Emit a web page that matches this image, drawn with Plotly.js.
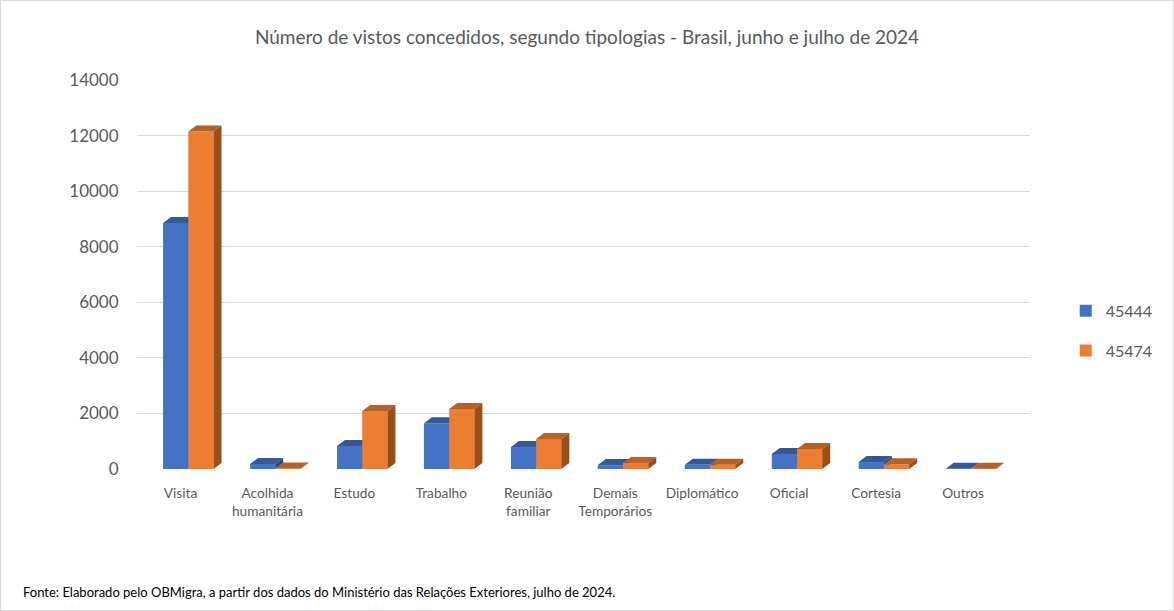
<!DOCTYPE html>
<html>
<head>
<meta charset="utf-8">
<script src="https://cdn.plot.ly/plotly-3.0.1.min.js"></script>
<style>
html,body{margin:0;padding:0;background:#fff;}
#chart{width:1172px;height:609px;border:1px solid #d9d9d9;}
</style>
</head>
<body>
<div id="chart"></div>
<script>
// Data
const categories = ["Visita", "Acolhida<br>humanitária", "Estudo", "Trabalho", "Reunião<br>familiar",
  "Demais<br>Temporários", "Diplomático", "Oficial", "Cortesia", "Outros"];
const seriesNames = ["45444", "45474"];
const junho = [8850, 180, 830, 1650, 790, 140, 150, 540, 250, 10];
const julho = [12150, 20, 2090, 2160, 1080, 220, 150, 720, 170, 10];

const xs = categories.map((c, i) => i);
const barW = 0.29;
const offsets = [-0.2, 0.09];
const dx = 0.092;   // depth (category units)
const dy = 216;     // depth (value units)
const fronts = ["#4472C4", "#ED7D31"];
const tops = ["#34589C", "#B95F20"];
const sides = ["#2C4A82", "#9C4E19"];
const seriesVals = [junho, julho];
const axX = ["x", "x2"], axY = ["y", "y2"];

const traces = [];
seriesVals.forEach((vals, s) => {
  traces.push({
    type: "bar", x: xs, y: vals, name: seriesNames[s],
    width: barW, offset: offsets[s], xaxis: axX[s], yaxis: axY[s],
    marker: {color: fronts[s], line: {width: 0}},
    legendgroup: "g" + s, hoverinfo: "y"
  });
  // top faces
  const tx = [], ty = [];
  vals.forEach((v, i) => {
    const x0 = i + offsets[s], x1 = x0 + barW;
    tx.push(x0, x1, x1 + dx, x0 + dx, x0, null);
    ty.push(v, v, v + dy, v + dy, v, null);
  });
  traces.push({type: "scatter", mode: "lines", x: tx, y: ty, fill: "toself", xaxis: axX[s], yaxis: axY[s],
    fillcolor: tops[s], line: {width: 0, color: tops[s]}, showlegend: false, hoverinfo: "skip"});
  // side faces
  const sx = [], sy = [];
  vals.forEach((v, i) => {
    const x1 = i + offsets[s] + barW;
    sx.push(x1, x1, x1 + dx, x1 + dx, x1, null);
    sy.push(0, v, v + dy, dy, 0, null);
  });
  traces.push({type: "scatter", mode: "lines", x: sx, y: sy, fill: "toself", xaxis: axX[s], yaxis: axY[s],
    fillcolor: sides[s], line: {width: 0, color: sides[s]}, showlegend: false, hoverinfo: "skip"});
});

const xRange = [-0.5, 9.77], yRange = [0, 14000];
const layout = {
  width: 1172, height: 609,
  paper_bgcolor: "#ffffff", plot_bgcolor: "#ffffff",
  font: {family: "Lato, 'Open Sans', sans-serif", color: "#595959"},
  margin: {l: 136, r: 143, t: 79, b: 141},
  title: {text: "Número de vistos concedidos, segundo tipologias - Brasil, junho e julho de 2024",
    font: {size: 19, color: "#595959"}, x: 0.5, xanchor: "center", y: 0.94, yanchor: "middle"},
  barmode: "overlay",
  showlegend: true,
  legend: {x: 1.04, xanchor: "left", y: 0.355, yanchor: "middle", font: {size: 16, color: "#595959"},
    tracegroupgap: 16, itemwidth: 30, bgcolor: "rgba(0,0,0,0)"},
  xaxis: {range: xRange, tickvals: xs, ticktext: categories, showgrid: false, zeroline: false,
    showline: false, ticks: "outside", ticklen: 12, tickcolor: "rgba(0,0,0,0)",
    tickfont: {size: 13.7, color: "#595959"}, fixedrange: true},
  yaxis: {range: yRange, tickvals: [0, 2000, 4000, 6000, 8000, 10000, 12000, 14000],
    tickformat: "d", showgrid: true, gridcolor: "#d9d9d9", gridwidth: 1, zeroline: false,
    showline: false, ticks: "outside", ticklen: 14, tickcolor: "rgba(0,0,0,0)",
    tickfont: {size: 17, color: "#595959"}, fixedrange: true},
  xaxis2: {range: xRange, overlaying: "x", visible: false, fixedrange: true},
  yaxis2: {range: yRange, overlaying: "y", visible: false, fixedrange: true},
  annotations: [{
    text: "Fonte: Elaborado pelo OBMigra, a partir dos dados do Ministério das Relações Exteriores, julho de 2024.",
    xref: "paper", yref: "paper", x: -0.13, y: -0.315, xanchor: "left", yanchor: "middle",
    showarrow: false, font: {size: 13, color: "#000000"}
  }]
};

Plotly.newPlot("chart", traces, layout, {displayModeBar: false, staticPlot: true});
</script>
</body>
</html>
